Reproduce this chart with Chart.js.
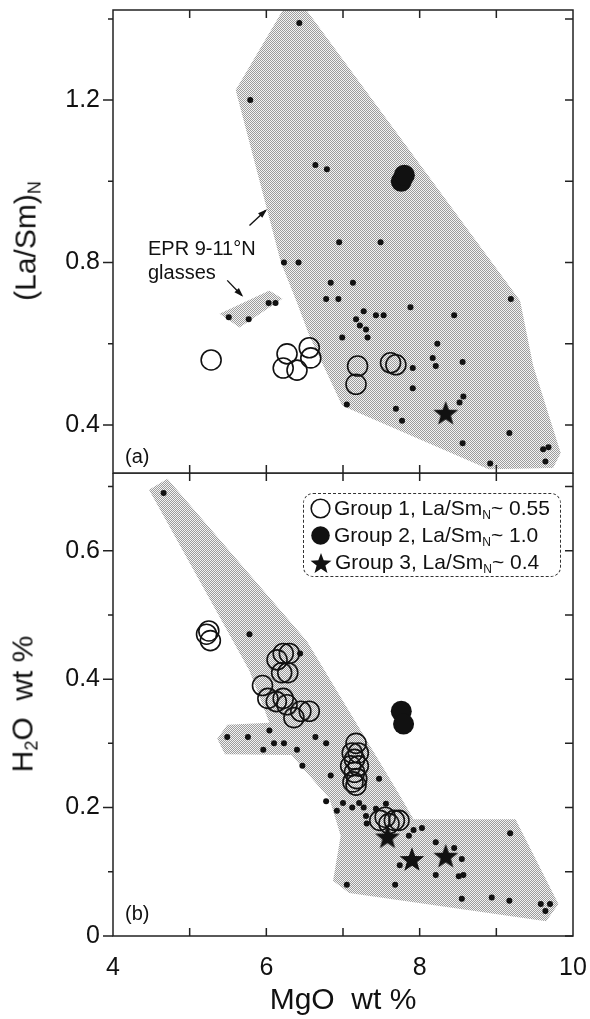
<!DOCTYPE html>
<html>
<head>
<meta charset="utf-8">
<script src="https://cdn.jsdelivr.net/npm/chart.js@4.4.1/dist/chart.umd.min.js"></script>
<style>
    html, body { margin: 0; padding: 0; background: #fff; }
    body {
        width: 590px; height: 1019px; position: relative; overflow: hidden;
        font-family: "Liberation Sans", Arial, Helvetica, sans-serif; color: #111;
    }
    .panel { position: absolute; left: 0; }
    #wrapA { top: 0; }
    #wrapB { top: 473px; }
    .ytitle {
        position: absolute; font-size: 30px; white-space: nowrap;
        transform: translate(-50%, -50%) rotate(-90deg);
    }
    .ytitle sub { font-size: 18px; vertical-align: -5px; }
    .tag { position: absolute; font-size: 20px; line-height: 24px; }
    #epr { position: absolute; left: 148px; top: 236px; font-size: 20px; line-height: 24px; }
    #legend {
        position: absolute; left: 303px; top: 493px; width: 258px; height: 84px;
        border: 1.5px dashed #333; border-radius: 10px; box-sizing: border-box;
        padding-top: 1px;
    }
    #legend .row { display: flex; align-items: center; height: 27px; font-size: 21px; white-space: nowrap; }
    #legend canvas { margin-left: 6px; margin-right: 3px; }
    #legend sub { font-size: 12px; vertical-align: -4px; }
</style>
</head>
<body>
<div class="panel" id="wrapA"><canvas id="chartA" width="590" height="480"></canvas></div>
<div class="panel" id="wrapB"><canvas id="chartB" width="590" height="546"></canvas></div>

<div class="ytitle" style="left:27px; top:241px;">(La/Sm)<sub>N</sub></div>
<div class="ytitle" style="left:24px; top:704px;">H<sub>2</sub>O&nbsp; wt %</div>
<div class="tag" style="left:125px; top:444px;">(a)</div>
<div class="tag" style="left:125px; top:901px;">(b)</div>
<div id="epr">EPR 9-11°N<br>glasses</div>
<div id="legend"></div>

<script>
// ---------- data: panel (a), (La/Sm)N vs MgO ----------
var xTicks = [4, 6, 8, 10];
var yTicksA = [0.4, 0.8, 1.2];
var yMinorA = [0.6, 1.0, 1.4];
var yTicksB = [0, 0.2, 0.4, 0.6];
var yMinorB = [0.1, 0.3, 0.5, 0.7];

var eprDotsA = [
    [6.43, 1.39], [5.79, 1.20], [6.64, 1.04], [6.79, 1.03], [6.95, 0.85], [7.49, 0.85],
    [6.23, 0.80], [6.42, 0.80], [6.84, 0.75], [7.13, 0.75], [6.78, 0.71], [6.94, 0.71],
    [7.88, 0.69], [7.27, 0.68], [7.43, 0.67], [7.53, 0.67], [8.45, 0.67], [9.19, 0.71],
    [7.17, 0.66], [7.22, 0.645], [7.30, 0.635], [6.99, 0.615], [7.32, 0.615], [8.23, 0.60],
    [8.17, 0.565], [8.21, 0.545], [8.56, 0.555], [7.91, 0.54], [7.91, 0.49], [7.05, 0.45],
    [7.69, 0.44], [7.77, 0.41], [8.52, 0.455], [8.57, 0.47], [9.17, 0.38], [8.56, 0.355],
    [8.92, 0.305], [9.61, 0.34], [9.68, 0.345], [9.64, 0.31],
    [5.51, 0.665], [5.77, 0.66], [6.03, 0.70], [6.12, 0.70]
];
var group1A = [
    [5.28, 0.56], [6.22, 0.54], [6.27, 0.575], [6.40, 0.535], [6.56, 0.59], [6.58, 0.565],
    [7.19, 0.545], [7.17, 0.50], [7.62, 0.553], [7.69, 0.548]
];
var group2A = [[7.76, 1.00], [7.80, 1.015]];
var group3A = [[8.34, 0.43]];
var eprFieldA = [
    [6.21, 1.42], [6.53, 1.42], [9.31, 0.706], [9.48, 0.546], [9.84, 0.331], [9.74, 0.294],
    [8.90, 0.291], [6.99, 0.447], [6.56, 0.62], [6.39, 0.706], [6.19, 0.80], [6.01, 0.93],
    [5.60, 1.225]
];
var eprSmallA = [[5.39, 0.674], [6.04, 0.731], [6.21, 0.711], [5.65, 0.640]];

// ---------- data: panel (b), H2O vs MgO ----------
var eprDotsB = [
    [4.66, 0.69], [5.78, 0.47], [6.44, 0.44],
    [5.49, 0.31], [5.76, 0.31], [6.04, 0.32], [5.96, 0.29], [6.10, 0.30], [6.23, 0.30], [6.40, 0.29],
    [6.64, 0.31], [6.78, 0.30], [6.47, 0.265], [6.84, 0.25], [7.47, 0.245], [6.78, 0.21],
    [6.92, 0.195], [7.00, 0.207], [7.12, 0.20], [7.21, 0.207], [7.27, 0.20], [7.30, 0.187],
    [7.43, 0.198], [7.56, 0.206], [7.31, 0.175], [7.92, 0.165], [8.03, 0.168], [7.86, 0.156],
    [9.18, 0.16], [8.21, 0.146], [8.45, 0.137], [8.55, 0.12], [7.74, 0.11], [8.21, 0.095],
    [8.51, 0.093], [8.57, 0.095], [8.55, 0.058], [8.94, 0.06], [9.17, 0.055], [9.58, 0.05],
    [9.70, 0.05], [9.64, 0.039], [7.05, 0.08], [7.68, 0.08]
];
var group1B = [
    [5.22, 0.47], [5.27, 0.46], [5.25, 0.475],
    [6.22, 0.44], [6.30, 0.44], [6.14, 0.43], [6.20, 0.41], [6.28, 0.41], [5.95, 0.39],
    [6.02, 0.37], [6.13, 0.365], [6.22, 0.37], [6.27, 0.36], [6.36, 0.34], [6.45, 0.35], [6.56, 0.35],
    [7.17, 0.30], [7.12, 0.285], [7.20, 0.285], [7.15, 0.275], [7.10, 0.265], [7.20, 0.265],
    [7.15, 0.255], [7.18, 0.245], [7.13, 0.24], [7.17, 0.235],
    [7.48, 0.18], [7.55, 0.185], [7.60, 0.175], [7.67, 0.18], [7.73, 0.18]
];
var group2B = [[7.76, 0.35], [7.79, 0.33]];
var group3B = [[7.58, 0.155], [7.90, 0.12], [8.34, 0.125]];
var eprFieldB = [
    [4.71, 0.712], [6.53, 0.459], [7.73, 0.221], [7.92, 0.182], [9.25, 0.182], [9.81, 0.05],
    [9.65, 0.023], [7.08, 0.067], [6.87, 0.086], [6.97, 0.156], [6.82, 0.215], [6.47, 0.262],
    [6.33, 0.282], [5.46, 0.283], [5.36, 0.307], [5.49, 0.329], [6.04, 0.332], [5.78, 0.413],
    [4.47, 0.695]
];

var groupNames = ['Group 1', 'Group 2', 'Group 3'];
var groupRatios = ['0.55', '1.0', '0.4'];

// ---------- helpers ----------
var FONT = '"Liberation Sans", Arial, Helvetica, sans-serif';
var INK = '#111';
Chart.defaults.font.family = FONT;
Chart.defaults.color = INK;

function pts(list) {
    return list.map(function(p) { return { x: p[0], y: p[1] }; });
}

// stippled grey fill like the printed screen
function makeStipple() {
    var c = document.createElement('canvas');
    c.width = 2; c.height = 2;
    var g = c.getContext('2d');
    g.fillStyle = '#f4f4f4'; g.fillRect(0, 0, 2, 2);
    g.fillStyle = '#9c9c9c'; g.fillRect(0, 0, 1, 1); g.fillRect(1, 1, 1, 1);
    return g.createPattern(c, 'repeat');
}

function makeStar(size) {
    var c = document.createElement('canvas');
    c.width = size; c.height = size;
    var g = c.getContext('2d');
    var cx = size / 2, cy = size / 2 + size * 0.05, R = size / 2, r = R * 0.42;
    g.beginPath();
    for (var i = 0; i < 10; i++) {
        var ang = -Math.PI / 2 + i * Math.PI / 5;
        var rad = i % 2 ? r : R;
        g.lineTo(cx + rad * Math.cos(ang), cy + rad * Math.sin(ang));
    }
    g.closePath();
    g.fillStyle = INK; g.fill();
    return c;
}

function makeCircleIcon(size, filled) {
    var c = document.createElement('canvas');
    c.width = size; c.height = size;
    var g = c.getContext('2d');
    g.beginPath();
    g.arc(size / 2, size / 2, size / 2 - 1.2, 0, Math.PI * 2);
    if (filled) { g.fillStyle = INK; g.fill(); }
    else { g.strokeStyle = INK; g.lineWidth = 1.6; g.stroke(); }
    return c;
}

var stipple = makeStipple();
var starImg = makeStar(26);

function fieldSet(poly) {
    return {
        type: 'line', data: pts(poly.concat([poly[0]])), fill: 'shape',
        backgroundColor: stipple, borderColor: 'rgba(0,0,0,0)', borderWidth: 0,
        pointRadius: 0, tension: 0, order: 9
    };
}
function dotSet(list) {
    return { data: pts(list), pointRadius: 3, backgroundColor: INK, borderWidth: 0, order: 5 };
}
function openSet(list) {
    return { data: pts(list), pointRadius: 10, backgroundColor: 'rgba(0,0,0,0)', borderColor: INK, borderWidth: 1.6, order: 4 };
}
function filledSet(list) {
    return { data: pts(list), pointRadius: 10.5, backgroundColor: INK, borderWidth: 0, order: 3 };
}
function starSet(list) {
    return { data: pts(list), pointStyle: starImg, pointRadius: 13, order: 2 };
}

// frame with inward ticks (top, right, bottom) and outward ticks on the left
var framePlugin = {
    id: 'frame',
    afterDatasetsDraw: function(chart, args, opts) {
        var a = chart.chartArea, g = chart.ctx;
        var xs = chart.scales.x, ys = chart.scales.y;
        g.save();
        g.strokeStyle = '#222';
        g.lineWidth = 1.5;
        g.strokeRect(a.left, a.top, a.right - a.left, a.bottom - a.top);
        g.beginPath();
        for (var v = 5; v <= 9; v++) {
            var px = xs.getPixelForValue(v);
            g.moveTo(px, a.top); g.lineTo(px, a.top + 8);
            g.moveTo(px, a.bottom); g.lineTo(px, a.bottom - 8);
        }
        opts.major.concat(opts.minor).forEach(function(v) {
            var py = ys.getPixelForValue(v);
            g.moveTo(a.right, py); g.lineTo(a.right - 8, py);
            var len = opts.major.indexOf(v) >= 0 ? 10 : 5;
            g.moveTo(a.left, py); g.lineTo(a.left - len, py);
        });
        g.stroke();
        g.restore();
    }
};

// two arrows pointing from the label to the EPR fields (panel a)
var arrowPlugin = {
    id: 'arrows',
    afterDatasetsDraw: function(chart, args, opts) {
        var xs = chart.scales.x, ys = chart.scales.y, g = chart.ctx;
        g.save();
        g.strokeStyle = INK; g.fillStyle = INK; g.lineWidth = 1.4;
        opts.list.forEach(function(ar) {
            var x0 = xs.getPixelForValue(ar[0]), y0 = ys.getPixelForValue(ar[1]);
            var x1 = xs.getPixelForValue(ar[2]), y1 = ys.getPixelForValue(ar[3]);
            var ang = Math.atan2(y1 - y0, x1 - x0);
            g.beginPath(); g.moveTo(x0, y0); g.lineTo(x1, y1); g.stroke();
            g.beginPath();
            g.moveTo(x1 + 2 * Math.cos(ang), y1 + 2 * Math.sin(ang));
            g.lineTo(x1 - 8 * Math.cos(ang - 0.4), y1 - 8 * Math.sin(ang - 0.4));
            g.lineTo(x1 - 8 * Math.cos(ang + 0.4), y1 - 8 * Math.sin(ang + 0.4));
            g.closePath(); g.fill();
        });
        g.restore();
    }
};

function yAxis(min, max, ticks) {
    return {
        type: 'linear', min: min, max: max,
        afterFit: function(s) { s.width = 113; s.paddingTop = 0; s.paddingBottom = 0; },
        afterBuildTicks: function(s) { s.ticks = ticks.map(function(v) { return { value: v }; }); },
        grid: { display: false, drawTicks: false },
        border: { display: false },
        ticks: { font: { size: 25 }, color: INK, padding: 13, callback: function(v) { return String(v); } }
    };
}

var baseOptions = function(pad) {
    return {
        responsive: false, animation: false, devicePixelRatio: 1, events: [],
        layout: { padding: pad, autoPadding: false },
        plugins: { legend: { display: false }, tooltip: { enabled: false } }
    };
};

// ---------- panel (a) ----------
var optA = baseOptions({ top: 10, right: 17, bottom: 7, left: 0 });
optA.scales = {
    x: { type: 'linear', min: 4, max: 10, display: false },
    y: yAxis(0.2815, 1.422, yTicksA)
};
optA.plugins.frame = { major: yTicksA, minor: yMinorA };
optA.plugins.arrows = { list: [[5.78, 0.891, 5.99, 0.928], [5.49, 0.756, 5.68, 0.719]] };

new Chart(document.getElementById('chartA'), {
    type: 'scatter',
    data: { datasets: [
        fieldSet(eprFieldA), fieldSet(eprSmallA), dotSet(eprDotsA),
        openSet(group1A), filledSet(group2A), starSet(group3A)
    ] },
    options: optA,
    plugins: [framePlugin, arrowPlugin]
});

// ---------- panel (b) ----------
var optB = baseOptions({ top: 0, right: 17, bottom: 0, left: 0 });
optB.scales = {
    x: {
        type: 'linear', min: 4, max: 10,
        afterFit: function(s) { s.height = 83; s.paddingLeft = 0; s.paddingRight = 0; },
        afterBuildTicks: function(s) { s.ticks = xTicks.map(function(v) { return { value: v }; }); },
        grid: { display: false, drawTicks: false },
        border: { display: false },
        ticks: { font: { size: 25 }, color: INK, padding: 17, maxRotation: 0 },
        title: { display: true, text: 'MgO  wt %', font: { size: 30 }, color: INK, padding: { top: 0, bottom: 0 } }
    },
    y: yAxis(0, 0.721, yTicksB)
};
optB.plugins.frame = { major: yTicksB, minor: yMinorB };

new Chart(document.getElementById('chartB'), {
    type: 'scatter',
    data: { datasets: [
        fieldSet(eprFieldB), dotSet(eprDotsB),
        openSet(group1B), filledSet(group2B), starSet(group3B)
    ] },
    options: optB,
    plugins: [framePlugin]
});

// ---------- legend ----------
var legend = document.getElementById('legend');
var icons = [makeCircleIcon(21, false), makeCircleIcon(21, true), makeStar(22)];
groupNames.forEach(function(name, i) {
    var row = document.createElement('div');
    row.className = 'row';
    row.appendChild(icons[i]);
    var span = document.createElement('span');
    span.innerHTML = name + ', La/Sm<sub>N</sub>~ ' + groupRatios[i];
    row.appendChild(span);
    legend.appendChild(row);
});
</script>
</body>
</html>
